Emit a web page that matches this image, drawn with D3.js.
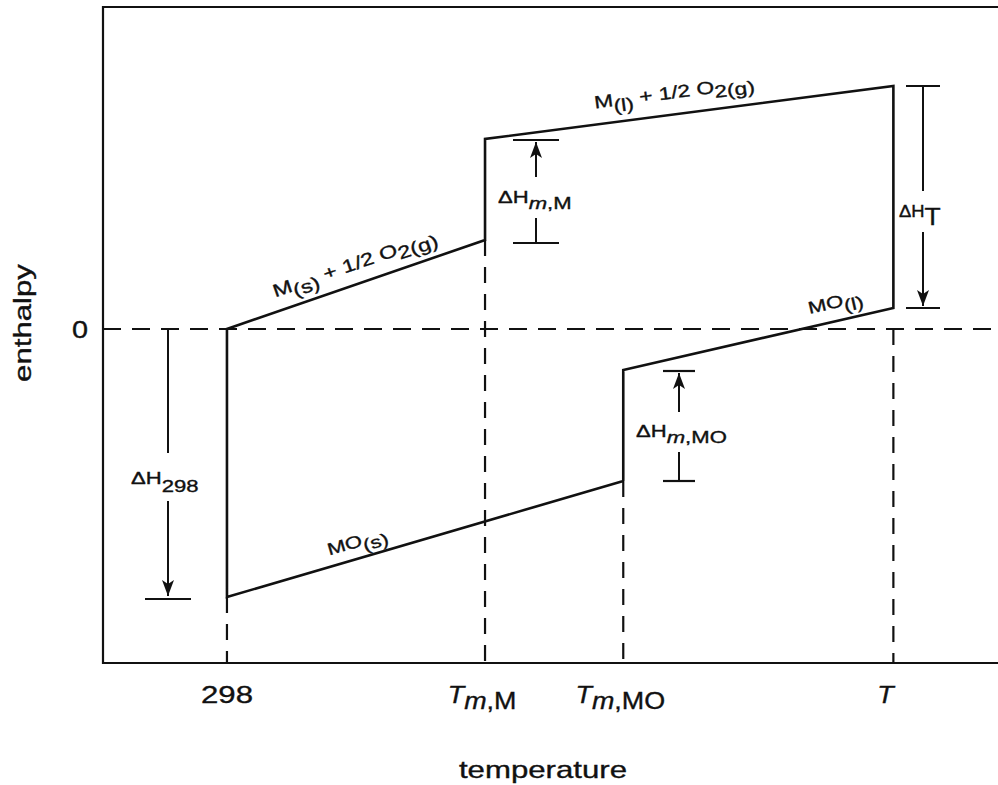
<!DOCTYPE html>
<html><head><meta charset="utf-8">
<script src="https://cdn.jsdelivr.net/npm/d3@7"></script>
<style>body{margin:0;background:#fff;} text{font-family:"Liberation Sans",Arial,sans-serif;fill:#111;stroke:#111;stroke-width:0.35;}</style>
</head><body><svg id="c" width="998" height="785"></svg>
<script>
// Temperatures (schematic units)
const tickKeys = ["298", "TmM", "TmMO", "T"];
const tickTemps = [298, 1112, 1548, 2400];
// Enthalpy values (schematic units, 0 = reference state)
const metalSolid = [[298, 0], [1112, 178]];        // M(s) + 1/2 O2(g)
const metalLiquid = [[1112, 380], [2400, 486]];    // M(l) + 1/2 O2(g)
const oxideSolid = [[298, -536], [1548, -304]];    // MO(s)
const oxideLiquid = [[1548, -82], [2400, 42]];     // MO(l)
const xDomain = [-93, 2730];
const yDomain = [-668, 644];

const svg = d3.select("#c");
const L = 103, R = 998, T = 7, B = 663;
const x = d3.scaleLinear().domain(xDomain).range([L, R]);
const y = d3.scaleLinear().domain(yDomain).range([B, T]);
const ink = "#111";
const SX = 1.3; // horizontal text stretch

// frame
svg.append("path").attr("d", `M${R + 5},${T}H${L}V${B}H${R + 5}`)
  .attr("fill", "none").attr("stroke", ink).attr("stroke-width", 2.2);

// zero dashed line
svg.append("line").attr("x1", L).attr("x2", R).attr("y1", y(0)).attr("y2", y(0))
  .attr("stroke", ink).attr("stroke-width", 2.2).attr("stroke-dasharray", "18,11");

// vertical dashed drops
const dropTops = [oxideSolid[0][1], metalSolid[1][1], oxideSolid[1][1], 0];
tickTemps.forEach((t, i) => {
  svg.append("line").attr("x1", x(t)).attr("x2", x(t)).attr("y1", y(dropTops[i])).attr("y2", B)
    .attr("stroke", ink).attr("stroke-width", 2.2).attr("stroke-dasharray", "16,11");
});

// main solid path
const line = d3.line().x(d => x(d[0])).y(d => y(d[1]));
const pathPts = [
  oxideSolid[1], oxideSolid[0], metalSolid[0], metalSolid[1], metalLiquid[0], metalLiquid[1], oxideLiquid[1], oxideLiquid[0], oxideSolid[1]
];
svg.append("path").attr("d", line(pathPts)).attr("fill", "none")
  .attr("stroke", ink).attr("stroke-width", 2.6).attr("stroke-linejoin", "miter");

// arrowhead defs
const defs = svg.append("defs");
defs.append("marker").attr("id", "ah").attr("viewBox", "0 0 16 12").attr("refX", 16).attr("refY", 6)
  .attr("markerWidth", 16).attr("markerHeight", 12).attr("markerUnits", "userSpaceOnUse").attr("orient", "auto")
  .append("path").attr("d", "M0,0L16,6L0,12L4,6Z").attr("fill", ink);

function txt(parent, px, py, parts, size, anchor, sx) {
  const t = parent.append("text").attr("font-size", size)
    .attr("transform", `translate(${px},${py}) scale(${sx || SX},1)`)
    .attr("text-anchor", anchor || "start");
  parts.forEach(p => {
    const ts = t.append("tspan").text(p.t);
    if (p.sub) ts.attr("dy", p.sub);
    if (p.fs) ts.attr("font-size", p.fs);
    if (p.it) ts.attr("font-style", "italic");
  });
  return t;
}

// dimension annotation
function dim(xp, yFrom, yTo, capW, gapTop, gapBot) {
  const g = svg.append("g");
  g.append("line").attr("x1", xp - capW / 2).attr("x2", xp + capW / 2).attr("y1", yTo).attr("y2", yTo).attr("stroke", ink).attr("stroke-width", 2.2);
  g.append("line").attr("x1", xp - capW / 2).attr("x2", xp + capW / 2).attr("y1", yFrom).attr("y2", yFrom).attr("stroke", ink).attr("stroke-width", 2.2);
  const up = yTo < yFrom;
  g.append("line").attr("x1", xp).attr("x2", xp).attr("y1", yFrom).attr("y2", up ? gapBot : gapTop).attr("stroke", ink).attr("stroke-width", 2);
  g.append("line").attr("x1", xp).attr("x2", xp).attr("y1", up ? gapTop : gapBot).attr("y2", up ? yTo + 2 : yTo - 2)
    .attr("stroke", ink).attr("stroke-width", 2).attr("marker-end", "url(#ah)");
  return g;
}

// ΔH298 (from zero line down to MO(s) at 298)
const g298 = svg.append("g");
g298.append("line").attr("x1", 168).attr("x2", 168).attr("y1", y(0)).attr("y2", 453).attr("stroke", ink).attr("stroke-width", 2);
g298.append("line").attr("x1", 168).attr("x2", 168).attr("y1", 501).attr("y2", y(oxideSolid[0][1]) - 1)
  .attr("stroke", ink).attr("stroke-width", 2).attr("marker-end", "url(#ah)");
g298.append("line").attr("x1", 145).attr("x2", 191).attr("y1", y(oxideSolid[0][1]) + 2).attr("y2", y(oxideSolid[0][1]) + 2).attr("stroke", ink).attr("stroke-width", 2.2);
txt(svg, 131, 484, [{t: "ΔH"}, {t: "298", sub: 8}], 17);

// ΔHm,M
dim(536, y(metalSolid[1][1]) + 3, y(metalLiquid[0][1]) + 1, 46, 177, 218);
txt(svg, 498, 203, [{t: "ΔH"}, {t: "m", sub: 6, it: true}, {t: ",M"}], 17);

// ΔHT
dim(923, y(metalLiquid[1][1]), y(oxideLiquid[1][1]), 34, 191, 232);
txt(svg, 899, 217, [{t: "ΔH"}, {t: "T", sub: 8, fs: 23}], 16, "start", 1.15);

// ΔHm,MO
dim(679, y(oxideSolid[1][1]), y(oxideLiquid[0][1]) + 1, 32, 412, 452);
txt(svg, 636, 437, [{t: "ΔH"}, {t: "m", sub: 6, it: true}, {t: ",MO"}], 17);

// labels along lines
function along(seg, frac, off, parts, size) {
  const x1 = x(seg[0][0]), y1 = y(seg[0][1]), x2 = x(seg[1][0]), y2 = y(seg[1][1]);
  const ang = Math.atan2(y2 - y1, x2 - x1) * 180 / Math.PI;
  const px = x1 + (x2 - x1) * frac, py = y1 + (y2 - y1) * frac;
  const g = svg.append("g").attr("transform", `translate(${px},${py}) rotate(${ang})`);
  return txt(g, 0, off, parts, size, "middle");
}
along(metalSolid, 0.52, -14, [{t: "M"}, {t: "(s)", sub: 6}, {t: " + 1/2 O", sub: -6}, {t: "2(g)", sub: 5}], 18);
along(metalLiquid, 0.47, -16, [{t: "M"}, {t: "(l)", sub: 6}, {t: " + 1/2 O", sub: -6}, {t: "2(g)", sub: 5}], 17.5);
along(oxideLiquid, 0.8, -13, [{t: "MO"}, {t: "(l)", sub: 6}], 17);
along(oxideSolid, 0.34, -11, [{t: "MO"}, {t: "(s)", sub: 6}], 17);

// x tick labels
const tickParts = {
  "298": [{t: "298"}],
  "TmM": [{t: "T", it: true}, {t: "m", it: true, sub: 6}, {t: ",M"}],
  "TmMO": [{t: "T", it: true}, {t: "m", it: true, sub: 6}, {t: ",MO"}],
  "T": [{t: "T", it: true}]
};
const tickDx = {"298": 0, "TmM": -3, "TmMO": -3, "T": -8};
tickKeys.forEach((k, i) => {
  txt(svg, x(tickTemps[i]) + tickDx[k], 703, tickParts[k], 24, "middle", k === "298" ? 1.3 : 1.12);
});

// y tick "0"
txt(svg, 80, y(0) + 9, [{t: "0"}], 24, "middle", 1.2);

// axis titles
txt(svg, 543, 778, [{t: "temperature"}], 24, "middle", 1.3);
svg.append("text").attr("transform", `translate(31,${y(0) - 6}) rotate(-90) scale(1.3,1)`)
  .attr("text-anchor", "middle").attr("font-size", 24).text("enthalpy");
</script></body></html>
